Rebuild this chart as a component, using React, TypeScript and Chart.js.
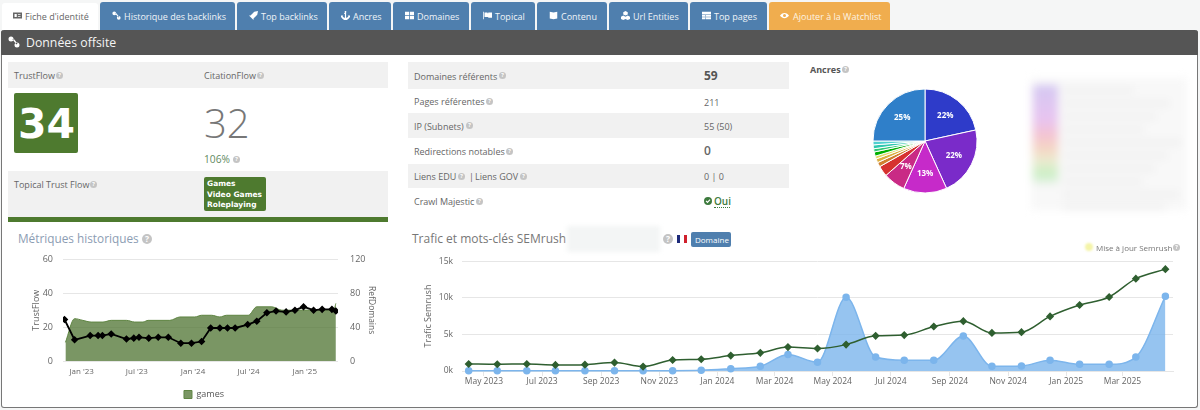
import React, { useEffect, useRef } from 'react';
import { Chart, registerables } from 'chart.js';

Chart.register(...registerables);

const FONT = '"Open Sans", sans-serif';
const GREEN = '#4e7a2f';
const BLUE = '#4f7fae';
const GRID = '#e6e6e6';
const TICK = '#666666';

// --- Métriques historiques
const refDomainDates = ['2022-11-06', '2022-12-09', '2023-01-29', '2023-02-24', '2023-03-10', '2023-04-08', '2023-05-28', '2023-06-21', '2023-07-08', '2023-08-09', '2023-09-09', '2023-10-12', '2023-11-22', '2023-12-27', '2024-01-29', '2024-02-28', '2024-03-29', '2024-04-23', '2024-05-18', '2024-06-28', '2024-07-28', '2024-08-30', '2024-09-29', '2024-11-01', '2024-11-30', '2024-12-28', '2025-01-30', '2025-02-27', '2025-03-31', '2025-04-13'];
const refDomains = [49, 25, 30, 30, 30, 32, 26, 27, 28, 27, 28, 28, 21, 21, 23, 39, 39, 39, 39, 43, 47, 57, 59, 58, 60, 64, 60, 61, 61, 59];
const gamesDates = ['2022-11-09', '2022-12-09', '2023-01-05', '2023-02-01', '2023-03-12', '2023-04-08', '2023-05-28', '2023-06-24', '2023-07-21', '2023-08-07', '2023-10-17', '2023-11-19', '2024-01-07', '2024-01-29', '2024-03-02', '2024-03-29', '2024-04-20', '2024-06-30', '2024-07-28', '2024-09-15', '2024-10-18', '2025-04-06', '2025-04-13'];
const gamesTrustFlow = [11, 25, 24, 23, 23, 24, 24, 23, 23, 24, 24, 26, 26, 27, 27, 26, 27, 27, 32, 32, 30, 30, 34];
const historyTickDates = ['2023-01-01', '2023-07-01', '2024-01-01', '2024-07-01', '2025-01-01'];
const historyTickLabels = ["Jan '23", "Jul '23", "Jan '24", "Jul '24", "Jan '25"];

// --- Trafic et mots-clés SEMrush
const semrushDates = ['2023-04-15', '2023-05-15', '2023-06-15', '2023-07-15', '2023-08-15', '2023-09-15', '2023-10-15', '2023-11-15', '2023-12-15', '2024-01-15', '2024-02-15', '2024-03-15', '2024-04-15', '2024-05-15', '2024-06-15', '2024-07-15', '2024-08-15', '2024-09-15', '2024-10-15', '2024-11-15', '2024-12-15', '2025-01-15', '2025-02-15', '2025-03-15', '2025-04-15'];
const semrushKeywords = [960, 920, 960, 830, 870, 1150, 600, 1500, 1600, 2100, 2480, 3260, 3070, 3600, 4800, 4900, 6070, 6800, 5200, 5300, 7450, 9000, 10100, 12600, 13900];
const semrushTraffic = [50, 50, 50, 50, 50, 50, 50, 50, 100, 320, 640, 2250, 1200, 10050, 1900, 1470, 1470, 4770, 640, 690, 1470, 920, 920, 1900, 10200];
const semrushTickDates = ['2023-05-01', '2023-07-01', '2023-09-01', '2023-11-01', '2024-01-01', '2024-03-01', '2024-05-01', '2024-07-01', '2024-09-01', '2024-11-01', '2025-01-01', '2025-03-01'];
const semrushTickLabels = ['May 2023', 'Jul 2023', 'Sep 2023', 'Nov 2023', 'Jan 2024', 'Mar 2024', 'May 2024', 'Jul 2024', 'Sep 2024', 'Nov 2024', 'Jan 2025', 'Mar 2025'];

// --- Ancres
const anchorShares = [21.6, 21.6, 13.5, 6.8, 3.3, 1.4, 1.2, 0.9, 1.3, 1.0, 1.2, 1.2, 25];
const anchorLabels = ['22%', '22%', '13%', '7%', '', '', '', '', '', '', '', '', '25%'];
const anchorColors = ['#2e3bc9', '#7a2bc9', '#c62ac9', '#c92a85', '#d6322f', '#d08030', '#dcb040', '#e4d860', '#00b000', '#30c878', '#30c8b0', '#50d0d0', '#2f7fc9'];

const dayOf = (iso: string) => Date.parse(iso) / 864e5;

const pieLabelPlugin = {
    id: 'pieLabels',
    afterDatasetsDraw(chart: any) {
        const ctx = chart.ctx;
        ctx.save();
        ctx.font = `bold 8px ${FONT}`;
        ctx.fillStyle = '#ffffff';
        ctx.textAlign = 'center';
        ctx.textBaseline = 'middle';
        chart.getDatasetMeta(0).data.forEach((arc: any, i: number) => {
            const mid = (arc.startAngle + arc.endAngle) / 2;
            ctx.fillText(anchorLabels[i], arc.x + Math.cos(mid) * arc.outerRadius * 0.62, arc.y + Math.sin(mid) * arc.outerRadius * 0.62);
        });
        ctx.restore();
    },
};

const HistoryChart: React.FC = () => {
    const canvasRef = useRef<HTMLCanvasElement | null>(null);

    useEffect(() => {
        const chart = new Chart(canvasRef.current!, {
            type: 'line',
            data: {
                datasets: [
                    {
                        label: 'RefDomains',
                        yAxisID: 'y2',
                        data: refDomainDates.map((d, i) => ({ x: dayOf(d), y: refDomains[i] })),
                        borderColor: '#000000',
                        backgroundColor: '#000000',
                        borderWidth: 1.8,
                        pointStyle: 'rectRot',
                        pointRadius: 2.5,
                        tension: 0,
                    },
                    {
                        label: 'games',
                        yAxisID: 'y',
                        data: gamesDates.map((d, i) => ({ x: dayOf(d), y: gamesTrustFlow[i] })),
                        borderColor: '#5f8543',
                        backgroundColor: 'rgba(76,114,46,0.74)',
                        borderWidth: 1,
                        pointRadius: 0,
                        fill: 'origin',
                        cubicInterpolationMode: 'monotone',
                    },
                ],
            },
            options: {
                animation: false,
                responsive: false,
                layout: { padding: { top: 9, right: 0, bottom: 0, left: 0 } },
                plugins: {
                    tooltip: { enabled: false },
                    legend: {
                        position: 'bottom',
                        labels: {
                            filter: (item: any) => item.text === 'games',
                            boxWidth: 8,
                            boxHeight: 8,
                            padding: 5,
                            color: '#555555',
                            font: { family: FONT, size: 9 },
                        },
                    },
                },
                scales: {
                    x: {
                        type: 'linear',
                        min: dayOf('2022-11-01'),
                        max: dayOf('2025-04-20'),
                        afterBuildTicks: (scale: any) => {
                            scale.ticks = historyTickDates.map((d) => ({ value: dayOf(d) }));
                        },
                        afterFit: (scale: any) => {
                            scale.height = 24;
                        },
                        grid: { display: false, tickLength: 0 },
                        border: { display: false },
                        ticks: {
                            autoSkip: false,
                            maxRotation: 0,
                            padding: 6,
                            color: TICK,
                            font: { family: FONT, size: 8 },
                            callback: (_v: any, i: number) => historyTickLabels[i],
                        },
                    },
                    y: {
                        min: 0,
                        max: 60,
                        afterFit: (scale: any) => {
                            scale.width = 32;
                        },
                        grid: { color: GRID, tickLength: 0 },
                        border: { display: false },
                        title: { display: true, text: 'TrustFlow', color: TICK, padding: 0, font: { family: FONT, size: 9 } },
                        ticks: { stepSize: 20, padding: 10, color: TICK, font: { family: FONT, size: 9 } },
                    },
                    y2: {
                        position: 'right',
                        min: 0,
                        max: 120,
                        afterFit: (scale: any) => {
                            scale.width = 39;
                        },
                        grid: { display: false, tickLength: 0 },
                        border: { display: false },
                        title: { display: true, text: 'RefDomains', color: TICK, padding: 0, font: { family: FONT, size: 8.5 } },
                        ticks: { stepSize: 40, padding: 12, color: TICK, font: { family: FONT, size: 9 } },
                    },
                },
            },
        } as any);
        return () => chart.destroy();
    }, []);

    return <canvas ref={canvasRef} width={346} height={167} style={{ position: 'absolute', left: 31, top: 242 }} />;
};

const SemrushChart: React.FC = () => {
    const canvasRef = useRef<HTMLCanvasElement | null>(null);

    useEffect(() => {
        const chart = new Chart(canvasRef.current!, {
            type: 'line',
            data: {
                datasets: [
                    {
                        label: 'Mots-clés',
                        data: semrushDates.map((d, i) => ({ x: dayOf(d), y: semrushKeywords[i] })),
                        borderColor: '#2f5f30',
                        backgroundColor: '#2f5f30',
                        borderWidth: 1.5,
                        pointStyle: 'rectRot',
                        pointRadius: 3,
                        cubicInterpolationMode: 'monotone',
                    },
                    {
                        label: 'Trafic',
                        data: semrushDates.map((d, i) => ({ x: dayOf(d), y: semrushTraffic[i] })),
                        borderColor: '#7cb5ec',
                        backgroundColor: 'rgba(124,181,236,0.8)',
                        pointBackgroundColor: '#7cb5ec',
                        borderWidth: 1.5,
                        pointRadius: 3,
                        fill: 'origin',
                        clip: false,
                        cubicInterpolationMode: 'monotone',
                    },
                ],
            },
            options: {
                animation: false,
                responsive: false,
                layout: { padding: { top: 10, right: 17, bottom: 0, left: 0 } },
                plugins: { legend: { display: false }, tooltip: { enabled: false } },
                scales: {
                    x: {
                        type: 'linear',
                        min: dayOf('2023-04-08'),
                        max: dayOf('2025-04-23'),
                        afterBuildTicks: (scale: any) => {
                            scale.ticks = semrushTickDates.map((d) => ({ value: dayOf(d) }));
                        },
                        afterFit: (scale: any) => {
                            scale.height = 31;
                        },
                        grid: { drawOnChartArea: false, color: GRID, tickLength: 5 },
                        border: { color: GRID },
                        ticks: {
                            autoSkip: false,
                            maxRotation: 0,
                            padding: 0,
                            color: TICK,
                            font: { family: FONT, size: 8.5 },
                            callback: (_v: any, i: number) => semrushTickLabels[i],
                        },
                    },
                    y: {
                        min: 0,
                        max: 15000,
                        afterFit: (scale: any) => {
                            scale.width = 39;
                        },
                        grid: { color: GRID, tickLength: 0 },
                        border: { display: false },
                        title: { display: true, text: 'Trafic Semrush', color: TICK, padding: 0, font: { family: FONT, size: 9 } },
                        ticks: {
                            stepSize: 5000,
                            padding: 9,
                            color: TICK,
                            font: { family: FONT, size: 8.5 },
                            callback: (v: any) => `${v / 1000}k`,
                        },
                    },
                },
            },
        } as any);
        return () => chart.destroy();
    }, []);

    return <canvas ref={canvasRef} width={767} height={155} style={{ position: 'absolute', left: 423, top: 247 }} />;
};

const AnchorsPie: React.FC = () => {
    const canvasRef = useRef<HTMLCanvasElement | null>(null);

    useEffect(() => {
        const chart = new Chart(canvasRef.current!, {
            type: 'pie',
            data: {
                labels: anchorLabels,
                datasets: [{ data: anchorShares, backgroundColor: anchorColors, borderColor: '#ffffff', borderWidth: 1 }],
            },
            options: {
                animation: false,
                responsive: false,
                radius: 52,
                plugins: { legend: { display: false }, tooltip: { enabled: false } },
            },
            plugins: [pieLabelPlugin],
        } as any);
        return () => chart.destroy();
    }, []);

    return <canvas ref={canvasRef} width={130} height={130} style={{ position: 'absolute', left: 860, top: 76 }} />;
};

// --- habillage de la page
const iconPaths: Record<string, string> = {
    card: 'M0 2h12v8H0zM2 4v4h3V4zM6.5 4v1H10V4zM6.5 7v1H10V7z',
    link: 'M3 0.5a2.5 2.5 0 1 1 0 5a2.5 2.5 0 1 1 0-5zM9 6.5a2.5 2.5 0 1 1 0 5a2.5 2.5 0 1 1 0-5zM4.5 3.5l1-1l4 5l-1 1z',
    rocket: 'M12 0L7 1L2 6L0 6L3 9L6 12L6 10L11 5z',
    anchor: 'M5 0h2v2H6.8v7c1.5 0 2.5-.8 3-2L9 6h3v3l-.8-.8C10.4 10.6 8.500 12 6 12S1.600 10.600 .8 8.200L0 9V6h3L2.200 7c.5 1.200 1.500 2 3 2V4H4V3h1z',
    grid: 'M0 1h5.500v4.500H0zM6.500 1H12v4.500H6.500zM0 6.500h5.500V11H0zM6.500 6.500H12V11H6.500z',
    flag: 'M0 1h1v10H0zM2 2h4v1h1V2h5v7H7V8H2z',
    book: 'M1 1l5 1l5-1v9l-5 1l-5-1z',
    cubes: 'M6 0l3 1.500v3L6 6L3 4.500v-3zM3 6l3 1.500v3L3 12L0 10.500v-3zM9 6l3 1.500v3L9 12l-3-1.500v-3z',
    table: 'M0 1h12v10H0zM0 4.500v.7h12v-.7zM0 7.500v.7h12v-.7zM4 4v7h.7V4z',
    eye: 'M6 2.500c2.500 0 5 1.800 6 3.500c-1 1.700-3.500 3.500-6 3.500S1 7.700 0 6c1-1.700 3.500-3.500 6-3.500zM6 4a2 2 0 1 0 0 4a2 2 0 1 0 0-4z',
    check: 'M6 0a6 6 0 1 1 0 12a6 6 0 1 1 0-12zM2.500 6.500l2.700 2.700l4.500-4.700l-1.200-1.200l-3.300 3.400l-1.500-1.400z',
};

const tabs = [
    { text: 'Historique des backlinks', icon: 'link', left: 100, right: 235 },
    { text: 'Top backlinks', icon: 'rocket', left: 237, right: 327 },
    { text: 'Ancres', icon: 'anchor', left: 329, right: 391 },
    { text: 'Domaines', icon: 'grid', left: 393, right: 469 },
    { text: 'Topical', icon: 'flag', left: 471, right: 535 },
    { text: 'Contenu', icon: 'book', left: 537, right: 607 },
    { text: 'Url Entities', icon: 'cubes', left: 609, right: 688 },
    { text: 'Top pages', icon: 'table', left: 690, right: 767 },
];

const Icon: React.FC<{ name: string; x: number; y: number; size?: number; color?: string }> = ({ name, x, y, size = 9, color = '#ffffff' }) => (
    <svg viewBox="0 0 12 12" width={size} height={size} style={{ position: 'absolute', left: x, top: y - size / 2 }}>
        <path d={iconPaths[name]} fill={color} fillRule="evenodd" />
    </svg>
);

const Label: React.FC<{ x: number; y: number; size?: number; color?: string; bold?: boolean; family?: string; weight?: number; children: React.ReactNode }> = ({ x, y, size = 9, color = '#666666', bold, family = FONT, weight, children }) => (
    <div style={{ position: 'absolute', left: x, top: y, transform: 'translateY(-50%)', fontFamily: family, fontSize: size, lineHeight: 1, fontWeight: weight ?? (bold ? 700 : 400), color, whiteSpace: 'nowrap' }}>{children}</div>
);

const Help: React.FC<{ x: number; y: number; size?: number }> = ({ x, y, size = 7 }) => (
    <div style={{ position: 'absolute', left: x, top: y - size / 2, width: size, height: size, borderRadius: '50%', background: '#c4c4c4', color: '#fff', fontFamily: FONT, fontSize: size - 1.5, fontWeight: 700, lineHeight: `${size}px`, textAlign: 'center' }}>?</div>
);

const Box: React.FC<{ x: number; y: number; w: number; h: number; bg: string; style?: React.CSSProperties; children?: React.ReactNode }> = ({ x, y, w, h, bg, style, children }) => (
    <div style={{ position: 'absolute', left: x, top: y, width: w, height: h, background: bg, ...style }}>{children}</div>
);

const statRows = [
    { text: 'Domaines référents', top: 62, bottom: 89, shaded: true, help: 499 },
    { text: 'Pages référentes', top: 89, bottom: 113, shaded: false, help: 486 },
    { text: 'IP (Subnets)', top: 113, bottom: 138, shaded: true, help: 466 },
    { text: 'Redirections notables', top: 138, bottom: 164, shaded: false, help: 506 },
    { text: 'Liens EDU', top: 164, bottom: 188, shaded: true, help: 458 },
    { text: 'Crawl Majestic', top: 188, bottom: 214, shaded: false, help: 476 },
];

const blurredLines = [88, 101, 114, 127, 140, 153, 166, 179, 192, 205];

const App: React.FC = () => (
    <div style={{ position: 'relative', width: 1200, height: 410, overflow: 'hidden', background: '#f5f6f6', fontFamily: FONT }}>
        <style>{'body{margin:0}'}</style>

        {/* onglets */}
        <Box x={2} y={3} w={96} h={28} bg="#ffffff" style={{ borderRadius: '3px 3px 0 0' }} />
        <Icon name="card" x={13} y={15.500} color="#666666" />
        <Label x={25} y={16} color="#666666">Fiche d'identité</Label>
        {tabs.map((t) => (
            <React.Fragment key={t.text}>
                <Box x={t.left} y={2} w={t.right - t.left} h={28} bg={BLUE} style={{ borderRadius: '3px 3px 0 0' }} />
                <Icon name={t.icon} x={t.left + 12} y={15.500} />
                <Label x={t.left + 24} y={16} color="#f0f4f8">{t.text}</Label>
            </React.Fragment>
        ))}
        <Box x={769} y={2} w={121} h={28} bg="#f0ad4e" style={{ borderRadius: '3px 3px 0 0' }} />
        <Icon name="eye" x={780} y={15.500} />
        <Label x={793} y={16} color="#fdf3e3">Ajouter à la Watchlist</Label>

        {/* panneau */}
        <Box x={1} y={30} w={1197} h={378} bg="#ffffff" style={{ boxSizing: 'border-box', border: '1px solid #777777', borderTop: 'none', borderRadius: '3px 3px 3px 3px' }} />
        <Box x={1} y={30} w={1197} h={25} bg="#555555" style={{ borderRadius: '3px 3px 0 0' }} />
        <Icon name="link" x={8} y={42} size={12} />
        <Label x={26} y={42.500} size={12.300} color="#f4f4f4">Données offsite</Label>

        {/* TrustFlow */}
        <Box x={8} y={62} w={380} h={26} bg="#f1f1f1" />
        <Label x={14} y={75}>TrustFlow</Label>
        <Help x={56} y={75} />
        <Label x={204} y={75}>CitationFlow</Label>
        <Help x={257} y={75} />
        <Box x={14} y={93} w={64} h={60} bg={GREEN} style={{ borderRadius: 2 }} />
        <Label x={18} y={123.500} size={41} color="#ffffff" weight={700} family='"DejaVu Sans", sans-serif'>34</Label>
        <Label x={204} y={123} size={40} color="#777777" weight={300}>32</Label>
        <Label x={204} y={159} size={10.200} color="#5f8a5f">106%</Label>
        <Help x={233} y={159} />
        <Box x={8} y={171} w={380} h={46} bg="#f1f1f1" />
        <Label x={14} y={184}>Topical Trust Flow</Label>
        <Help x={90} y={184} />
        <Box x={204} y={177} w={62} h={34} bg={GREEN} style={{ borderRadius: 2 }} />
        <Label x={207} y={183.500} size={7.500} color="#ffffff" weight={700} family='"DejaVu Sans", sans-serif'>Games</Label>
        <Label x={207} y={194.500} size={7.500} color="#ffffff" weight={700} family='"DejaVu Sans", sans-serif'>Video Games</Label>
        <Label x={207} y={205} size={7.500} color="#ffffff" weight={700} family='"DejaVu Sans", sans-serif'>Roleplaying</Label>
        <Box x={8} y={217} w={380} h={5} bg={GREEN} />

        {/* Domaines */}
        {statRows.map((r) => (
            <React.Fragment key={r.text}>
                {r.shaded && <Box x={408} y={r.top} w={381} h={r.bottom - r.top} bg="#f1f1f1" />}
                <Label x={414} y={(r.top + r.bottom) / 2}>{r.text}</Label>
                <Help x={r.help} y={(r.top + r.bottom) / 2} />
            </React.Fragment>
        ))}
        <Label x={469} y={176}>|</Label>
        <Label x={475} y={176}>Liens GOV</Label>
        <Help x={520} y={176} />
        <Label x={704} y={76} size={12} bold color="#555555">59</Label>
        <Label x={704} y={101.500}>211</Label>
        <Label x={704} y={126}>55 (50)</Label>
        <Label x={704} y={151} size={12} weight={600} color="#666666">0</Label>
        <Label x={704} y={176}>0 | 0</Label>
        <Icon name="check" x={704} y={201} size={8} color="#3d7a3d" />
        <Label x={714} y={201} size={10} weight={600} color="#3d7a3d">Oui</Label>
        <Box x={714} y={207} w={16} h={0} bg="transparent" style={{ borderBottom: '1.500px dotted #3d7a3d' }} />

        {/* Ancres */}
        <Label x={810} y={69} size={9} bold color="#555555">Ancres</Label>
        <Help x={842} y={69} />
        <AnchorsPie />
        <Box x={1031} y={78} w={156} h={132} bg="#f8f8f8" style={{ filter: 'blur(4px)' }}>
            <Box x={2} y={7} w={25} h={100} bg="linear-gradient(#d4c8f2, #e8c4f0 35%, #f4c4d2 50%, #f4d8c4 65%, #ecead0 75%, #c8f0c4 90%, #f2f2f2)" />
            {blurredLines.map((y, i) => (
                <Box key={y} x={32} y={y - 78} w={70 + ((i * 37) % 50)} h={5} bg="#eeeeee" />
            ))}
        </Box>

        {/* Métriques */}
        <Label x={18} y={239} size={11.800} color="#8c9db3">Métriques historiques</Label>
        <Help x={142} y={239} size={10} />
        <HistoryChart />

        {/* SEMrush */}
        <Label x={412} y={239} size={12} color="#777777">Trafic et mots-clés SEMrush</Label>
        <Box x={567} y={226} w={93} h={26} bg="#f3f5f5" style={{ filter: 'blur(2px)' }} />
        <Help x={663} y={239} size={10} />
        <Box x={677} y={235} w={3.300} h={8} bg="#1d2a7a" />
        <Box x={680.300} y={235} w={3.300} h={8} bg="#ffffff" />
        <Box x={683.600} y={235} w={3.300} h={8} bg="#d0202c" />
        <Box x={691} y={232} w={40} h={15} bg={BLUE} style={{ borderRadius: 2 }} />
        <Label x={695} y={240} size={8} color="#ffffff">Domaine</Label>
        <SemrushChart />
        <Box x={1085} y={243} w={8} h={8} bg="#f4f4a8" style={{ borderRadius: '50%', filter: 'blur(1px)' }} />
        <Label x={1096} y={247.500} size={8} color="#777777">Mise à jour Semrush</Label>
        <Help x={1173} y={247} />
    </div>
);

export default App;
